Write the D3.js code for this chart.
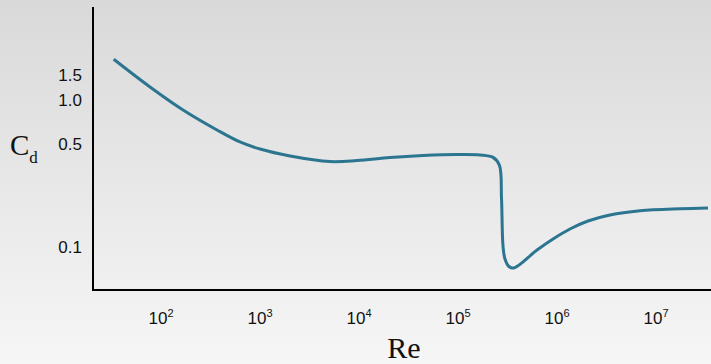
<!DOCTYPE html>
<meta charset="utf-8">
<script src="https://d3js.org/d3.v7.min.js"></script>
<style>
  body { margin: 0; }
  svg { display: block; }
</style>
<body>
<div id="chart"></div>
<script>
  // drag coefficient curve
  var reValues = [33.3, 77.4, 167, 368, 628, 1000, 2010, 5093, 9550, 20560, 44290, 97700,
                  166700, 225900, 262000, 275000, 284800, 298200, 327300, 367900, 628000,
                  912000, 1.352e6, 2.056e6, 3.428e6, 6.887e6, 1.746e7, 3.35e7];
  var cdValues = [1.91, 1.235, 0.860, 0.628, 0.520, 0.465, 0.417, 0.382, 0.388, 0.407, 0.420, 0.427,
                  0.424, 0.408, 0.360, 0.215, 0.1011, 0.0824, 0.0732, 0.0715, 0.0949,
                  0.1129, 0.1321, 0.1498, 0.1647, 0.1759, 0.1816, 0.1838];
  var yTicks = [1.5, 1.0, 0.5, 0.1];
  var xTicks = [2, 3, 4, 5, 6, 7]; // exponents of 10

  var width = 711, height = 364;

  var svg = d3.select("#chart").append("svg")
    .attr("width", width)
    .attr("height", height);

  var grad = svg.append("defs").append("linearGradient")
    .attr("id", "bg").attr("x1", 0).attr("y1", 0).attr("x2", 0).attr("y2", 1);
  grad.append("stop").attr("offset", "0%").attr("stop-color", "#d9d9d9");
  grad.append("stop").attr("offset", "100%").attr("stop-color", "#f6f6f6");

  svg.append("rect")
    .attr("width", width).attr("height", height)
    .attr("fill", "url(#bg)");

  var x = d3.scaleLog().domain([1e2, 1e7]).range([161, 656]);
  var y = d3.scaleLog().domain([0.1, 1]).range([246.7, 100.4]);

  var data = reValues.map(function(r, i) { return {re: r, cd: cdValues[i]}; });

  var line = d3.line()
    .x(function(d) { return x(d.re); })
    .y(function(d) { return y(d.cd); })
    .curve(d3.curveCatmullRom.alpha(0.5));

  svg.append("path")
    .datum(data)
    .attr("d", line)
    .attr("fill", "none")
    .attr("stroke", "#2b7591")
    .attr("stroke-width", 3)
    .attr("stroke-linejoin", "round");

  // axes lines
  svg.append("line")
    .attr("x1", 93).attr("x2", 93).attr("y1", 7).attr("y2", 291)
    .attr("stroke", "#000").attr("stroke-width", 2);
  svg.append("line")
    .attr("x1", 92).attr("x2", width).attr("y1", 290).attr("y2", 290)
    .attr("stroke", "#000").attr("stroke-width", 2);

  // y tick labels
  svg.selectAll(".ytick")
    .data(yTicks)
    .join("text")
      .attr("class", "ytick")
      .attr("x", 82)
      .attr("y", function(d) { return y(d); })
      .attr("dy", "0.35em")
      .attr("text-anchor", "end")
      .style("font-family", "'Liberation Sans', Arial, sans-serif")
      .style("font-size", "17px")
      .style("fill", "#111")
      .text(function(d) { return d.toFixed(1); });

  // x tick labels 10^n
  var xt = svg.selectAll(".xtick")
    .data(xTicks)
    .join("text")
      .attr("class", "xtick")
      .attr("x", function(d) { return x(Math.pow(10, d)); })
      .attr("y", 324)
      .attr("text-anchor", "middle")
      .style("font-family", "'Liberation Sans', Arial, sans-serif")
      .style("font-size", "17px")
      .style("fill", "#111");
  xt.append("tspan").text("10");
  xt.append("tspan")
    .attr("dy", -7)
    .style("font-size", "11px")
    .text(function(d) { return d; });

  // axis titles
  svg.append("text")
    .attr("x", 404).attr("y", 358)
    .attr("text-anchor", "middle")
    .style("font-family", "'Liberation Serif', 'Times New Roman', serif")
    .style("font-size", "30px")
    .style("fill", "#111")
    .text("Re");

  var cd = svg.append("text")
    .attr("x", 10).attr("y", 155)
    .style("font-family", "'Liberation Serif', 'Times New Roman', serif")
    .style("font-size", "29px")
    .style("fill", "#111");
  cd.append("tspan").text("C");
  cd.append("tspan")
    .attr("dy", 8)
    .style("font-size", "17px")
    .text("d");
</script>
</body>
